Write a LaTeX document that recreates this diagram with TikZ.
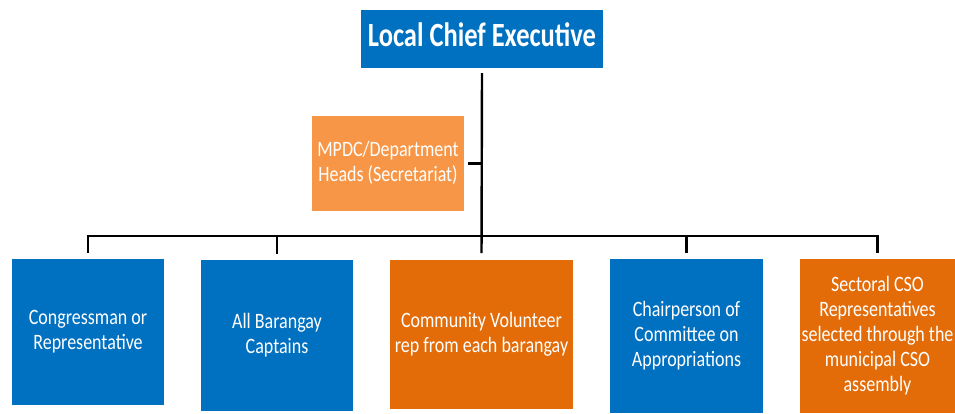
\documentclass[tikz,border=0pt]{standalone}
\usepackage{fontspec}
\setmainfont{Carlito}
\definecolor{officeblue}{HTML}{0070C0}
\definecolor{officeorange}{HTML}{E36C09}
\definecolor{lightorange}{HTML}{F79646}
% text in the boxes is drawn a bit taller than wide
\newcommand{\tallbox}[2][1.22]{\scalebox{1}[#1]{\begin{tabular}{@{}c@{}}#2\end{tabular}}}
\begin{document}
\begin{tikzpicture}[x=1pt,y=-1pt]
            \useasboundingbox (0,0) rectangle (955,413);
            \begin{scope}[every node/.style={text=white,inner sep=0pt,font=\fontsize{18}{20.5}\selectfont}]
                \node[fill=officeblue,minimum width=242,minimum height=58,font=\bfseries\fontsize{26.5}{28}\selectfont] (1) at (482,39) {\tallbox[1.28]{Local Chief Executive}};
                \node[fill=lightorange,minimum width=152,minimum height=95] (2) at (388,163.5) {\tallbox{MPDC/Department\\Heads (Secretariat)}};
            \end{scope}
            \begin{scope}[every node/.style={text=white,inner sep=0pt,anchor=north,font=\fontsize{18}{20.5}\selectfont}]
                \node[fill=officeblue,minimum width=152,minimum height=146] (3) at (88,259) {\tallbox{Congressman or\\Representative}};
                \node[fill=officeblue,minimum width=152,minimum height=151] (4) at (277,260) {\tallbox{All Barangay\\Captains}};
                \node[fill=officeorange,minimum width=183,minimum height=149] (5) at (481.5,260) {\tallbox{Community Volunteer\\rep from each barangay}};
                \node[fill=officeblue,minimum width=153,minimum height=154] (6) at (686.5,259) {\tallbox{Chairperson of\\Committee on\\Appropriations}};
                \node[fill=officeorange,minimum width=155,minimum height=154] (7) at (877.5,259) {\tallbox{Sectoral CSO\\Representatives\\selected through the\\municipal CSO\\assembly}};
            \end{scope}
            \coordinate (bus) at (482,236);
            \begin{scope}[every path/.style={draw,line width=2.4pt}]
                \path[shorten <=5pt,shorten >=7pt] (1.south) -- (5.north);
                \path[shorten <=4pt] (2.east) -- (2.east -| 1.south);
                \path[shorten >=6pt] (bus) -| (3.north);
                \path[shorten >=6pt] (bus) -| (4.north);
                \path[shorten >=6pt] (bus) -| (6.north);
                \path[shorten >=6pt] (bus) -| (7.north);
            \end{scope}
        \end{tikzpicture}
\end{document}
